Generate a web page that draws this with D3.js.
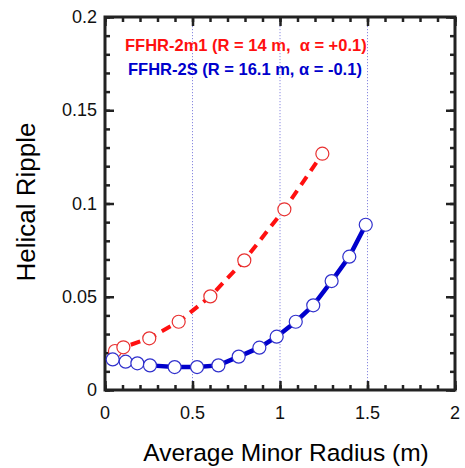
<!DOCTYPE html>
<html>
<head>
<meta charset="utf-8">
<script src="https://cdn.jsdelivr.net/npm/d3@7"></script>
<style>
  body { margin: 0; background: #fff; }
  svg { display: block; font-family: "Liberation Sans", Arial, sans-serif; }
</style>
</head>
<body>
<svg id="chart" width="465" height="468"></svg>
<script>
// FFHR-2m1 (red, dashed)
var redX = [0.057, 0.105, 0.253, 0.421, 0.602, 0.796, 1.025, 1.242];
var redY = [0.0209, 0.0229, 0.0277, 0.0366, 0.0502, 0.0695, 0.0969, 0.1267];
// FFHR-2S (blue, solid)
var blueX = [0.044, 0.118, 0.185, 0.257, 0.398, 0.526, 0.648, 0.764, 0.882, 0.981, 1.090, 1.190, 1.295, 1.396, 1.490];
var blueY = [0.0164, 0.0152, 0.0143, 0.0132, 0.0123, 0.0123, 0.0132, 0.0179, 0.0227, 0.0286, 0.0366, 0.0454, 0.0584, 0.0715, 0.0886];

var xTicks = [0, 0.5, 1, 1.5, 2];
var yTicks = [0, 0.05, 0.1, 0.15, 0.2];
var gridX = [0.5, 1, 1.5];
var legendLines = ["FFHR-2m1 (R = 14 m,  \u03b1 = +0.1)", "FFHR-2S (R = 16.1 m, \u03b1 = -0.1)"];

var margin = {top: 17, right: 10, bottom: 78, left: 105};
var width = 465, height = 468;
var ink = '#222';

var x = d3.scaleLinear().domain([0, 2]).range([margin.left, width - margin.right]);
var y = d3.scaleLinear().domain([0, 0.2]).range([height - margin.bottom, margin.top]);

var svg = d3.select('#chart');

// dotted verticals
svg.selectAll('.grid')
  .data(gridX)
  .enter()
  .append('line')
    .attr('class', 'grid')
    .attr('x1', d => x(d)).attr('x2', d => x(d))
    .attr('y1', y(0.2)).attr('y2', y(0))
    .attr('stroke', '#8a8ae0')
    .attr('stroke-width', 1)
    .attr('stroke-dasharray', '1.2,1.8');

// inward ticks on all four sides (minor + major)
var xMinor = d3.range(0, 21).map(i => i / 10);
var yMinor = d3.range(0, 21).map(i => i / 100);

function tickAxis(axis, values, size, tf) {
  var g = svg.append('g').attr('transform', tf)
    .call(axis.tickValues(values).tickSize(size).tickFormat(''));
  g.select('.domain').remove();
  g.selectAll('line').attr('stroke', ink).attr('stroke-width', 2.5);
  return g;
}
tickAxis(d3.axisBottom(x), xMinor, -5, `translate(0,${y(0)})`);
tickAxis(d3.axisBottom(x), xTicks, -9, `translate(0,${y(0)})`);
tickAxis(d3.axisTop(x), xMinor, -5, `translate(0,${y(0.2)})`);
tickAxis(d3.axisTop(x), xTicks, -9, `translate(0,${y(0.2)})`);
tickAxis(d3.axisLeft(y), yMinor, -5, `translate(${x(0)},0)`);
tickAxis(d3.axisLeft(y), yTicks, -9, `translate(${x(0)},0)`);
tickAxis(d3.axisRight(y), yMinor, -5, `translate(${x(2)},0)`);
tickAxis(d3.axisRight(y), yTicks, -9, `translate(${x(2)},0)`);

// frame
svg.append('rect')
  .attr('x', x(0)).attr('y', y(0.2))
  .attr('width', x(2) - x(0)).attr('height', y(0) - y(0.2))
  .attr('fill', 'none').attr('stroke', ink).attr('stroke-width', 3);

// tick labels
svg.selectAll('.xlab')
  .data(xTicks)
  .enter()
  .append('text')
    .attr('class', 'xlab')
    .attr('x', d => x(d))
    .attr('y', y(0) + 29)
    .attr('text-anchor', 'middle')
    .attr('font-size', 18)
    .attr('fill', '#111')
    .text(d => d3.format('')(d));

svg.selectAll('.ylab')
  .data(yTicks)
  .enter()
  .append('text')
    .attr('class', 'ylab')
    .attr('x', x(0) - 8)
    .attr('y', d => y(d) + 6)
    .attr('text-anchor', 'end')
    .attr('font-size', 18)
    .attr('fill', '#111')
    .text(d => d3.format('')(d));

// axis titles
svg.append('text')
  .attr('x', 286).attr('y', 461)
  .attr('text-anchor', 'middle')
  .attr('font-size', 24.5)
  .text('Average Minor Radius (m)');

svg.append('text')
  .attr('transform', 'translate(35,202) rotate(-90)')
  .attr('text-anchor', 'middle')
  .attr('font-size', 26)
  .text('Helical Ripple');

// series
var redData = redX.map((v, i) => ({x: v, y: redY[i]}));
var blueData = blueX.map((v, i) => ({x: v, y: blueY[i]}));

var line = d3.line().x(d => x(d.x)).y(d => y(d.y));

svg.append('path')
  .datum(redData)
  .attr('d', line)
  .attr('fill', 'none')
  .attr('stroke', '#ff1010')
  .attr('stroke-width', 4)
  .attr('stroke-dasharray', '10,7');

svg.append('path')
  .datum(blueData)
  .attr('d', line)
  .attr('fill', 'none')
  .attr('stroke', '#0000cc')
  .attr('stroke-width', 4.5);

svg.selectAll('.red')
  .data(redData)
  .enter()
  .append('circle')
    .attr('class', 'red')
    .attr('cx', d => x(d.x)).attr('cy', d => y(d.y))
    .attr('r', 6.5)
    .attr('fill', '#fff')
    .attr('stroke', '#e83030')
    .attr('stroke-width', 1.2);

svg.selectAll('.blue')
  .data(blueData)
  .enter()
  .append('circle')
    .attr('class', 'blue')
    .attr('cx', d => x(d.x)).attr('cy', d => y(d.y))
    .attr('r', 6.5)
    .attr('fill', '#fff')
    .attr('stroke', '#3030cc')
    .attr('stroke-width', 1.2);

// legend text
svg.append('text')
  .attr('x', 125).attr('y', 51)
  .attr('font-size', 16.5).attr('font-weight', 'bold')
  .attr('fill', '#ff1010')
  .attr('xml:space', 'preserve')
  .text(legendLines[0]);

svg.append('text')
  .attr('x', 128).attr('y', 75)
  .attr('font-size', 16.5).attr('font-weight', 'bold')
  .attr('fill', '#0000cc')
  .attr('xml:space', 'preserve')
  .text(legendLines[1]);
</script>
</body>
</html>
